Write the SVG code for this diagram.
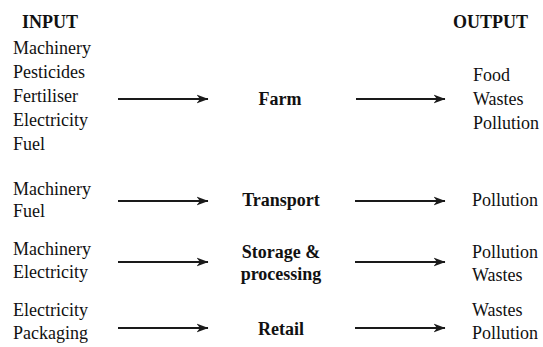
<svg xmlns="http://www.w3.org/2000/svg" width="543" height="347" viewBox="0 0 543 347" font-family="Liberation Serif, Times New Roman, serif" font-size="18">
<defs>
<marker id="ah" viewBox="0 0 12 10" refX="11.5" refY="5" markerWidth="12" markerHeight="10" markerUnits="userSpaceOnUse" orient="auto">
<path d="M0,0.5 L12,5 L0,9.5 L3.5,5 Z" fill="#1a1a1a"/>
</marker>
<style>
.t{fill:#111}
.b{font-weight:bold}
.m{text-anchor:middle}
.c line{stroke:#1a1a1a;stroke-width:1.8;marker-end:url(#ah)}
</style>
</defs>
<rect width="543" height="347" fill="#fff"/>
<g id="headers" class="t">
<text class="b" x="22" y="28">INPUT</text>
<text class="b" x="453" y="28">OUTPUT</text>
</g>
<g id="farm-inputs" class="t">
<text x="13" y="54">Machinery</text>
<text x="13" y="78">Pesticides</text>
<text x="13" y="102">Fertiliser</text>
<text x="13" y="126">Electricity</text>
<text x="13" y="150">Fuel</text>
</g>
<g id="farm" class="t"><text class="b m" x="280" y="105">Farm</text></g>
<g id="farm-outputs" class="t">
<text x="473" y="81">Food</text>
<text x="473" y="105">Wastes</text>
<text x="473" y="129">Pollution</text>
</g>
<g id="transport-inputs" class="t">
<text x="13" y="195">Machinery</text>
<text x="13" y="217">Fuel</text>
</g>
<g id="transport" class="t"><text class="b m" x="281" y="206">Transport</text></g>
<g id="transport-outputs" class="t"><text x="472" y="206">Pollution</text></g>
<g id="storage-inputs" class="t">
<text x="13" y="255">Machinery</text>
<text x="13" y="278">Electricity</text>
</g>
<g id="storage" class="t">
<text class="b m" x="281" y="258">Storage &amp;</text>
<text class="b m" x="281" y="280">processing</text>
</g>
<g id="storage-outputs" class="t">
<text x="472" y="258">Pollution</text>
<text x="472" y="281">Wastes</text>
</g>
<g id="retail-inputs" class="t">
<text x="13" y="316">Electricity</text>
<text x="13" y="339">Packaging</text>
</g>
<g id="retail" class="t"><text class="b m" x="281" y="335">Retail</text></g>
<g id="retail-outputs" class="t">
<text x="472" y="316">Wastes</text>
<text x="472" y="339">Pollution</text>
</g>
<g id="connectors" class="c">
<line x1="118" y1="99" x2="208" y2="99"/>
<line x1="356" y1="99" x2="445" y2="99"/>
<line x1="118" y1="201" x2="208" y2="201"/>
<line x1="355" y1="201" x2="445" y2="201"/>
<line x1="118" y1="262" x2="208" y2="262"/>
<line x1="355" y1="262" x2="445" y2="262"/>
<line x1="118" y1="328" x2="208" y2="328"/>
<line x1="355" y1="328" x2="445" y2="328"/>
</g>
</svg>
